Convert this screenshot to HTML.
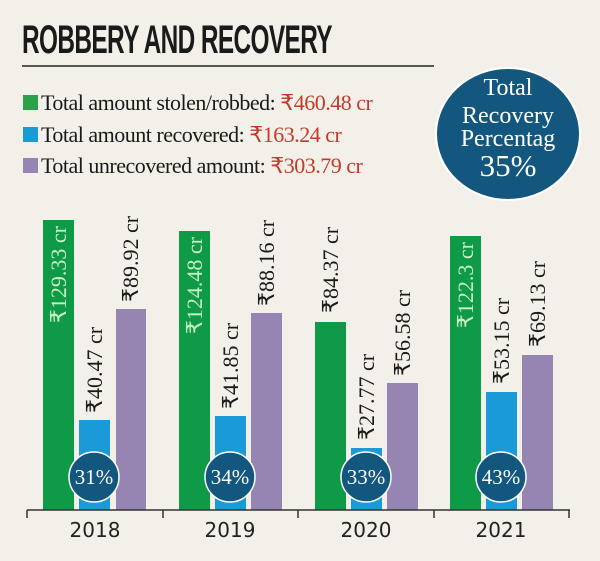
<!DOCTYPE html>
<html><head><meta charset="utf-8"><style>
html,body{margin:0;padding:0;background:#f2f0e9;}
svg{display:block}
</style></head><body>
<svg width="600" height="561" viewBox="0 0 600 561" xmlns="http://www.w3.org/2000/svg">
<rect width="600" height="561" fill="#f2f0e9"/>
<text x="22" y="53" font-family="Liberation Sans, sans-serif" font-weight="bold" font-size="40" fill="#1a1a1a" transform="scale(0.61,1)" transform-origin="22 53" letter-spacing="-1">ROBBERY AND RECOVERY</text>
<line x1="22" y1="66" x2="434" y2="66" stroke="#222" stroke-width="1.5"/>
<g font-family="Liberation Serif, serif" font-size="22">
<rect x="23" y="95" width="15" height="15" fill="#2aa14a"/>
<text x="41" y="110" fill="#1a1a1a" letter-spacing="-0.5">Total amount stolen/robbed: <tspan fill="#c43a2a">₹460.48 cr</tspan></text>
<rect x="23" y="127" width="15" height="15" fill="#1a9ad6"/>
<text x="41" y="142" fill="#1a1a1a" letter-spacing="-0.5">Total amount recovered: <tspan fill="#c43a2a">₹163.24 cr</tspan></text>
<rect x="23" y="158" width="15" height="15" fill="#9685b3"/>
<text x="41" y="173" fill="#1a1a1a" letter-spacing="-0.5">Total unrecovered amount: <tspan fill="#c43a2a">₹303.79 cr</tspan></text>
</g>
<ellipse cx="508" cy="134" rx="72" ry="66" fill="#14577e" stroke="#fff" stroke-width="2"/>
<g font-family="Liberation Serif, serif" fill="#fff" text-anchor="middle">
<text x="508" y="95" font-size="24">Total</text>
<text x="508" y="123" font-size="24">Recovery</text>
<text x="508" y="146" font-size="24">Percentag</text>
<text x="508" y="176" font-size="31">35%</text>
</g>
<g>
<rect x="43" y="220" width="31" height="290" fill="#0f9a48"/>
<rect x="79" y="420" width="31" height="90" fill="#1a9ad6"/>
<rect x="116" y="309" width="30" height="201" fill="#9685b3"/>
<rect x="179" y="231" width="31" height="279" fill="#0f9a48"/>
<rect x="215" y="416" width="31" height="94" fill="#1a9ad6"/>
<rect x="251" y="313" width="31" height="197" fill="#9685b3"/>
<rect x="315" y="322" width="31" height="188" fill="#0f9a48"/>
<rect x="351" y="448" width="31" height="62" fill="#1a9ad6"/>
<rect x="387" y="383" width="31" height="127" fill="#9685b3"/>
<rect x="450" y="236" width="31" height="274" fill="#0f9a48"/>
<rect x="486" y="392" width="31" height="118" fill="#1a9ad6"/>
<rect x="522" y="355" width="31" height="155" fill="#9685b3"/>
</g>
<g font-family="Liberation Serif, serif" font-size="22" fill="#1a1a1a">
<text transform="translate(66,226) rotate(-90)" text-anchor="end" fill="#c9f0c0">₹129.33 cr</text>
<text transform="translate(102,413) rotate(-90)">₹40.47 cr</text>
<text transform="translate(138,302) rotate(-90)">₹89.92 cr</text>
<text transform="translate(202,237) rotate(-90)" text-anchor="end" fill="#c9f0c0">₹124.48 cr</text>
<text transform="translate(238,409) rotate(-90)">₹41.85 cr</text>
<text transform="translate(274,306) rotate(-90)">₹88.16 cr</text>
<text transform="translate(338,313) rotate(-90)">₹84.37 cr</text>
<text transform="translate(374,440) rotate(-90)">₹27.77 cr</text>
<text transform="translate(410,376) rotate(-90)">₹56.58 cr</text>
<text transform="translate(473,242) rotate(-90)" text-anchor="end" fill="#c9f0c0">₹122.3 cr</text>
<text transform="translate(509,384) rotate(-90)">₹53.15 cr</text>
<text transform="translate(545,347) rotate(-90)">₹69.13 cr</text>
</g>
<g font-family="Liberation Serif, serif" font-size="21" fill="#fff" text-anchor="middle">
<circle cx="94" cy="477" r="25" fill="#14577e" stroke="#fff" stroke-width="1.5"/>
<text x="94" y="484">31%</text>
<circle cx="230" cy="477" r="25" fill="#14577e" stroke="#fff" stroke-width="1.5"/>
<text x="230" y="484">34%</text>
<circle cx="366" cy="477" r="25" fill="#14577e" stroke="#fff" stroke-width="1.5"/>
<text x="366" y="484">33%</text>
<circle cx="501" cy="477" r="25" fill="#14577e" stroke="#fff" stroke-width="1.5"/>
<text x="501" y="484">43%</text>
</g>
<g stroke="#333" stroke-width="1.5">
<line x1="27" y1="510" x2="570" y2="510"/>
<line x1="27" y1="510" x2="27" y2="518"/>
<line x1="163" y1="510" x2="163" y2="518"/>
<line x1="298" y1="510" x2="298" y2="518"/>
<line x1="434" y1="510" x2="434" y2="518"/>
<line x1="569" y1="510" x2="569" y2="518"/>
</g>
<g font-family="DejaVu Sans, sans-serif" font-size="20" fill="#222" text-anchor="middle">
<text x="95" y="537">2018</text>
<text x="230" y="537">2019</text>
<text x="366" y="537">2020</text>
<text x="501" y="537">2021</text>
</g>
</svg>
</body></html>
